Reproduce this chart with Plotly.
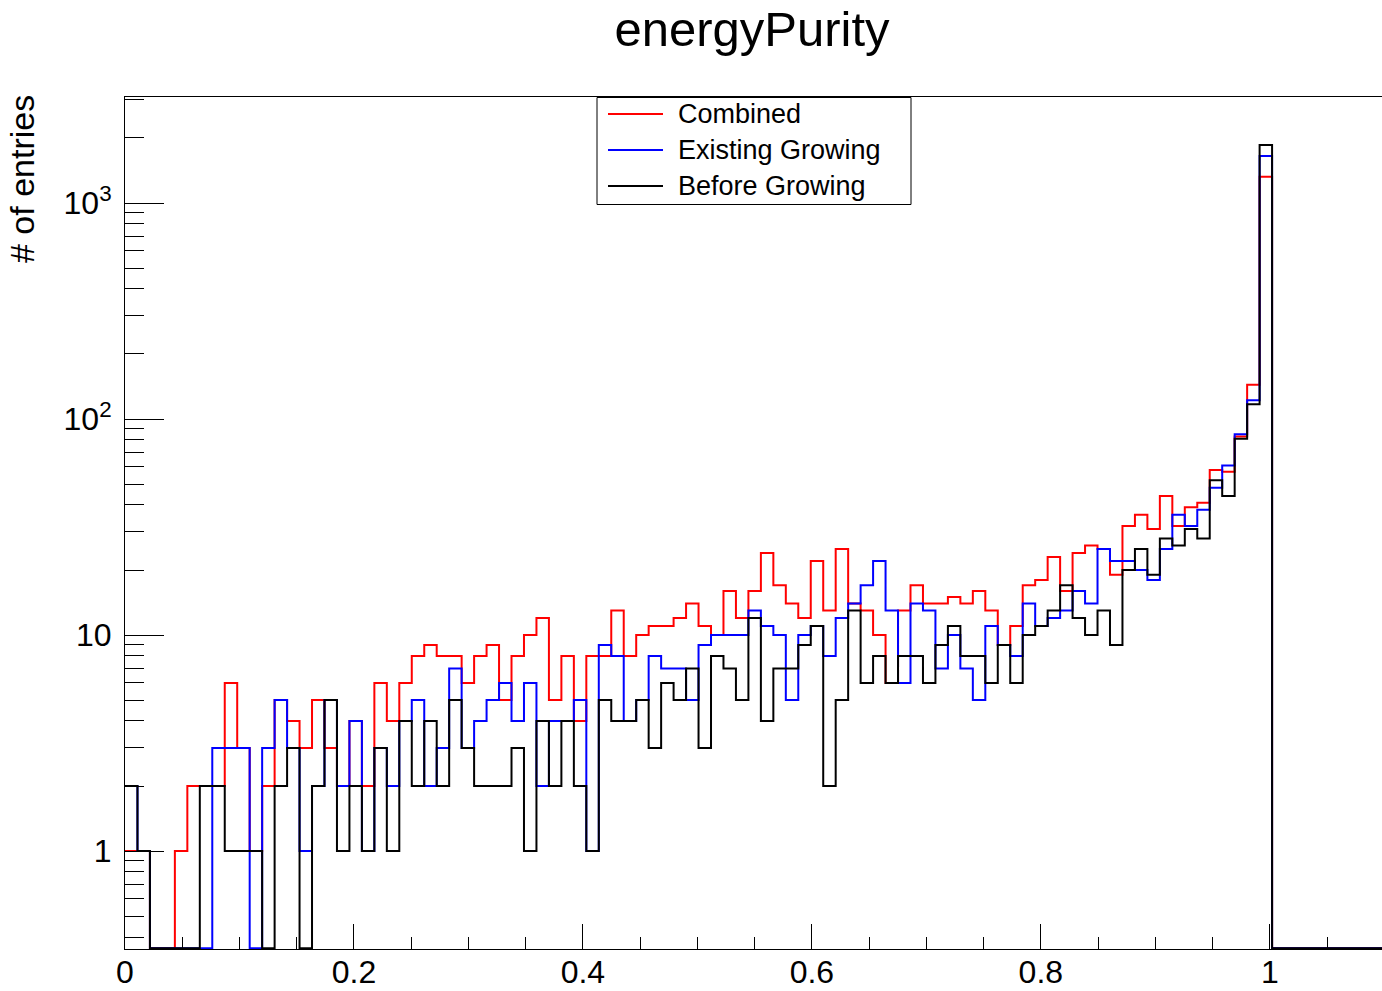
import numpy as np
import plotly.graph_objects as go

# ---- data ----
n_bins = 101
x_min, x_max = 0.0, 1.1

combined = [1, 1, 0, 0, 1, 2, 2, 2, 6, 3,
            1, 2, 5, 4, 3, 5, 3, 2, 4, 2,
            6, 4, 6, 8, 9, 8, 8, 6, 8, 9,
            5, 8, 10, 12, 5, 8, 4, 8, 8, 13,
            8, 10, 11, 11, 12, 14, 11, 10, 16, 12,
            16, 24, 17, 14, 12, 22, 13, 25, 14, 13,
            10, 6, 13, 17, 14, 14, 15, 14, 16, 13,
            9, 11, 17, 18, 23, 16, 24, 26, 25, 19,
            32, 36, 31, 44, 32, 39, 41, 58, 57, 83,
            144, 1324, 0, 0, 0, 0, 0, 0, 0, 0, 0]

existing_growing = [2, 1, 0, 0, 0, 0, 0, 3, 3, 3,
                    0, 3, 5, 3, 1, 2, 5, 2, 4, 1,
                    3, 2, 4, 5, 2, 3, 7, 3, 4, 5,
                    6, 4, 6, 2, 4, 4, 5, 1, 9, 8,
                    4, 5, 8, 7, 7, 5, 9, 10, 10, 10,
                    13, 11, 10, 5, 10, 11, 8, 12, 14, 17,
                    22, 13, 6, 14, 13, 7, 10, 7, 5, 11,
                    9, 8, 14, 11, 12, 13, 16, 14, 25, 22,
                    22, 20, 18, 25, 36, 32, 38, 48, 61, 85,
                    122, 1651, 0, 0, 0, 0, 0, 0, 0, 0, 0]

before_growing = [2, 1, 0, 0, 0, 0, 2, 2, 1, 1,
                  1, 0, 2, 3, 0, 2, 5, 1, 2, 1,
                  3, 1, 4, 2, 4, 2, 5, 3, 2, 2,
                  2, 3, 1, 4, 2, 4, 2, 1, 5, 4,
                  4, 5, 3, 6, 5, 7, 3, 8, 7, 5,
                  12, 4, 7, 7, 9, 11, 2, 5, 13, 6,
                  8, 6, 8, 8, 6, 9, 11, 8, 8, 6,
                  9, 6, 10, 11, 13, 17, 12, 10, 13, 9,
                  20, 25, 19, 28, 26, 31, 28, 52, 44, 81,
                  117, 1857, 0, 0, 0, 0, 0, 0, 0, 0, 0]

series_names = ["Combined", "Existing Growing", "Before Growing"]
series_colors = ["#ff0000", "#0000ff", "#000000"]

x_tick_vals = [0, 0.2, 0.4, 0.6, 0.8, 1.0]
x_tick_text = ["0", "0.2", "0.4", "0.6", "0.8", "1"]
y_tick_vals = [1, 10, 100, 1000]
y_tick_text = ["1", "10", "10<sup>2</sup>", "10<sup>3</sup>"]

# ---- layout constants ----
W, H = 1382, 991
L, R, T, B = 125, 0, 97, 42
y_log_min, y_log_max = np.log10(0.352), 3.4907
x_range = [0.0, 1.098]

edges = np.linspace(x_min, x_max, n_bins + 1)
floor_val = 10 ** (y_log_min + 0.004)

fig = go.Figure()
for name, vals, col in zip(series_names, [combined, existing_growing, before_growing], series_colors):
    yv = [v if v > 0 else floor_val for v in vals]
    yv = yv + [yv[-1]]
    fig.add_trace(go.Scatter(
        x=edges, y=yv, mode="lines", name=name,
        line=dict(color=col, width=2, shape="hv"),
        showlegend=False, hoverinfo="skip"))

# minor tick values for log axis
minor_y = []
for dec in range(-1, 4):
    for m in range(2, 10):
        v = m * 10 ** dec
        if 10 ** y_log_min <= v <= 10 ** y_log_max:
            minor_y.append(v)

font_family = "Liberation Sans, Arial, Helvetica, sans-serif"

fig.update_layout(
    width=W, height=H,
    margin=dict(l=L, r=R, t=T, b=B, pad=0, autoexpand=False),
    paper_bgcolor="white", plot_bgcolor="white",
    font=dict(family=font_family, color="black"),
    title=dict(text="energyPurity", x=752 / W, xanchor="center", xref="container",
               y=1 - 29 / H, yanchor="middle", yref="container",
               font=dict(size=49, family=font_family, color="black")),
    xaxis=dict(range=x_range, showgrid=False, zeroline=False, automargin=False,
               showline=True, linecolor="black", linewidth=1, mirror=True,
               tickmode="array", tickvals=x_tick_vals, ticktext=x_tick_text,
               ticks="inside", ticklen=25, tickcolor="black", tickwidth=1,
               tickfont=dict(size=32, family=font_family, color="black"),
               ticklabelstandoff=-5,
               minor=dict(ticks="inside", ticklen=12, tickcolor="black", tickwidth=1,
                          tickmode="linear", tick0=0, dtick=0.05, showgrid=False)),
    yaxis=dict(type="log", range=[y_log_min, y_log_max], showgrid=False, zeroline=False,
               automargin=False,
               showline=True, linecolor="black", linewidth=1, mirror=False,
               tickmode="array", tickvals=y_tick_vals, ticktext=y_tick_text,
               ticks="inside", ticklen=39, tickcolor="black", tickwidth=1,
               tickfont=dict(size=32, family=font_family, color="black"),
               ticklabelstandoff=6,
               minor=dict(ticks="inside", ticklen=19, tickcolor="black", tickwidth=1,
                          tickmode="array", tickvals=minor_y, showgrid=False)),
)

def px_to_paper_x(px):
    return (px - L) / (W - L - R)

def px_to_paper_y(py):
    return (H - B - py) / (H - T - B)

# y-axis title (ROOT style, aligned to top)
fig.add_annotation(text="# of entries", textangle=-90, showarrow=False,
                   xref="paper", yref="paper",
                   x=px_to_paper_x(22), y=px_to_paper_y(179),
                   xanchor="center", yanchor="middle",
                   font=dict(size=34, family=font_family, color="black"))

# legend box (ROOT TLegend style)
lx0, lx1, ly0, ly1 = 597, 911, 97.5, 204.5
fig.add_shape(type="rect", xref="paper", yref="paper",
              x0=px_to_paper_x(lx0), x1=px_to_paper_x(lx1),
              y0=px_to_paper_y(ly1), y1=px_to_paper_y(ly0),
              line=dict(color="black", width=1), fillcolor="white", layer="above")
row_y = [114, 150, 186]
for name, col, ry in zip(series_names, series_colors, row_y):
    fig.add_shape(type="line", xref="paper", yref="paper",
                  x0=px_to_paper_x(608), x1=px_to_paper_x(663),
                  y0=px_to_paper_y(ry), y1=px_to_paper_y(ry),
                  line=dict(color=col, width=2), layer="above")
    fig.add_annotation(text=name, showarrow=False, xref="paper", yref="paper",
                       x=px_to_paper_x(676), y=px_to_paper_y(ry),
                       xanchor="left", yanchor="middle",
                       font=dict(size=27, family=font_family, color="black"))

fig.write_html("out.html")
